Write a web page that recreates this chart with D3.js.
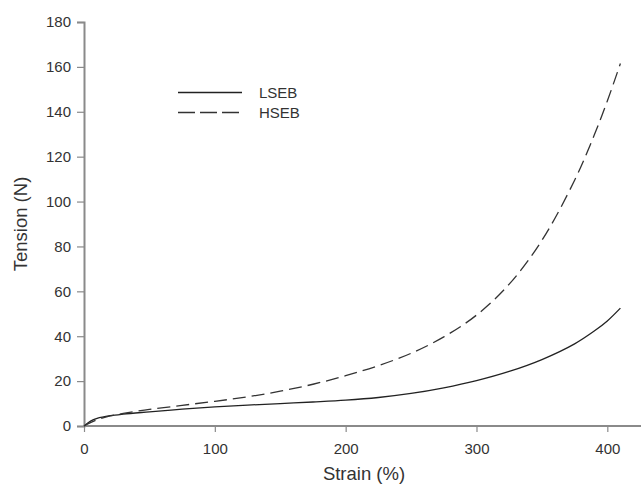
<!DOCTYPE html>
<html>
<head>
<meta charset="utf-8">
<script src="https://cdn.jsdelivr.net/npm/d3@7"></script>
<style>
  body { margin: 0; background: #fff; }
  text { font-family: "Liberation Sans", Arial, sans-serif; fill: #333; }
</style>
</head>
<body>
<div id="chart"></div>
<script>
var strain = [0, 5, 10, 20, 30, 50, 75, 100, 125, 150, 175, 200, 225, 250, 275, 300, 325, 350, 375, 390, 400, 410];
var lseb = [0, 2.2, 3.4, 4.6, 5.3, 6.3, 7.5, 8.5, 9.3, 10.0, 10.7, 11.5, 12.7, 14.5, 17.0, 20.2, 24.3, 29.6, 36.6, 42.3, 46.8, 52.5];
var hseb = [0, 1.5, 2.8, 4.5, 5.6, 7.4, 9.2, 11.0, 13.0, 15.5, 18.6, 22.4, 26.9, 32.4, 39.7, 49.4, 63.2, 82.7, 109.5, 129.6, 144.8, 161.5];
var xTicks = [0, 100, 200, 300, 400];
var yTicks = [0, 20, 40, 60, 80, 100, 120, 140, 160, 180];
var seriesNames = ["LSEB", "HSEB"];

var width = 641, height = 492;
var margin = { top: 22, left: 84, bottom: 66 };

var svg = d3.select("#chart")
    .append("svg")
    .attr("width", width)
    .attr("height", height);

var x = d3.scaleLinear().domain([0, 430]).range([margin.left, margin.left + 430 * 1.3083]);
var y = d3.scaleLinear().domain([0, 180]).range([height - margin.bottom, margin.top]);

var axisColor = "#8a8a8a";

// x axis
var gx = svg.append("g")
    .attr("transform", "translate(0," + y(0) + ")")
    .call(d3.axisBottom(x).tickValues(xTicks).tickSize(6).tickPadding(11));
// y axis
var gy = svg.append("g")
    .attr("transform", "translate(" + x(0) + ",0)")
    .call(d3.axisLeft(y).tickValues(yTicks).tickSize(7).tickPadding(6));

[gx, gy].forEach(function (g) {
    g.select(".domain").attr("stroke", axisColor).attr("stroke-width", 2);
    g.selectAll(".tick line").attr("stroke", axisColor).attr("stroke-width", 1.2);
    g.selectAll(".tick text")
        .style("font-family", "'Liberation Sans', Arial, sans-serif")
        .style("font-size", "15px")
        .attr("fill", "#333");
});
gx.select(".domain").attr("d", "M" + x(0) + ",0H" + width);

// lines
var line = d3.line()
    .x(function (d) { return x(d[0]); })
    .y(function (d) { return y(d[1]); })
    .curve(d3.curveCatmullRom.alpha(0.5));

svg.append("path")
    .datum(d3.zip(strain, lseb))
    .attr("d", line)
    .attr("fill", "none")
    .attr("stroke", "#222")
    .attr("stroke-width", 1.3);

svg.append("path")
    .datum(d3.zip(strain, hseb))
    .attr("d", line)
    .attr("fill", "none")
    .attr("stroke", "#333")
    .attr("stroke-width", 1.3)
    .attr("stroke-dasharray", "13,6");

// legend
var legend = svg.append("g");
legend.append("line")
    .attr("x1", 178).attr("x2", 242).attr("y1", 92.5).attr("y2", 92.5)
    .attr("stroke", "#222").attr("stroke-width", 1.3);
legend.append("line")
    .attr("x1", 178).attr("x2", 240).attr("y1", 112.5).attr("y2", 112.5)
    .attr("stroke", "#333").attr("stroke-width", 1.3)
    .attr("stroke-dasharray", "17,5");
legend.selectAll("text.leg")
    .data(seriesNames)
    .enter().append("text")
    .attr("class", "leg")
    .attr("x", 259)
    .attr("y", function (d, i) { return 98 + i * 20; })
    .style("font-size", "15px")
    .text(function (d) { return d; });

// axis titles
svg.append("text")
    .attr("x", 364)
    .attr("y", 480)
    .attr("text-anchor", "middle")
    .style("font-size", "18.5px")
    .text("Strain (%)");

svg.append("text")
    .attr("transform", "translate(27,224) rotate(-90)")
    .attr("text-anchor", "middle")
    .style("font-size", "18.5px")
    .text("Tension (N)");
</script>
</body>
</html>
